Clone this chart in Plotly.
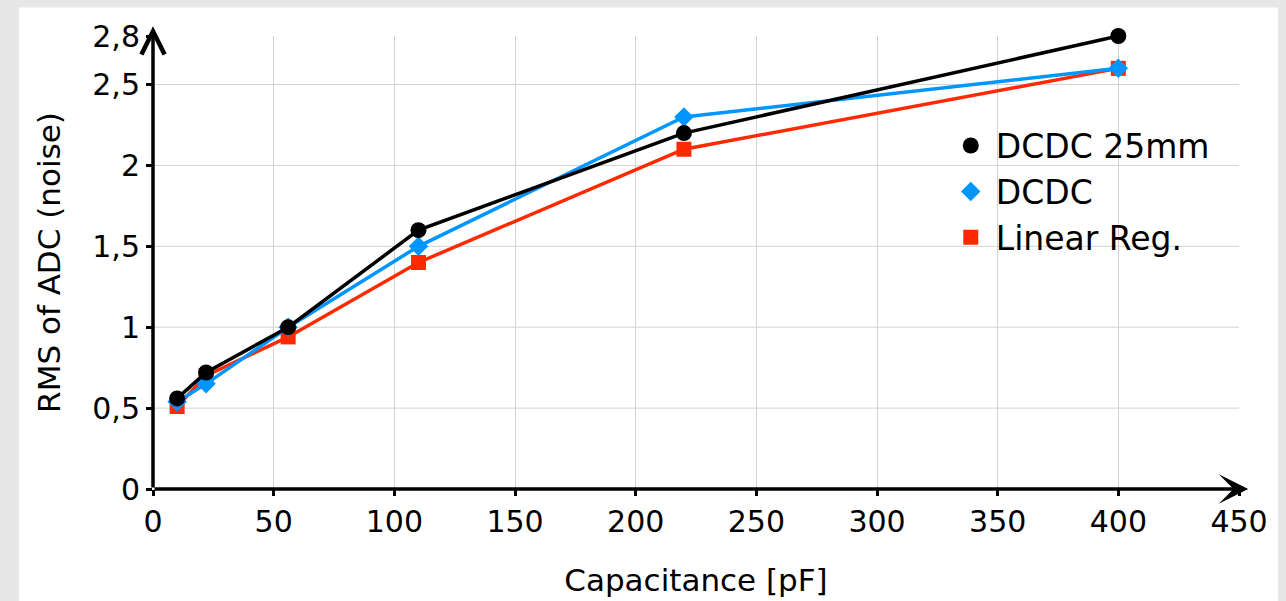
import plotly.graph_objects as go

# ---- data ----
capacitance = [10, 22, 56, 110, 220, 400]
dcdc_25mm = [0.56, 0.72, 1.00, 1.60, 2.20, 2.80]
dcdc = [0.54, 0.65, 1.00, 1.50, 2.30, 2.60]
linear_reg = [0.51, 0.70, 0.94, 1.40, 2.10, 2.60]

series_names = ["DCDC 25mm", "DCDC", "Linear Reg."]
series_values = [dcdc_25mm, dcdc, linear_reg]
series_colors = ["#000000", "#0096FF", "#FF2A00"]
series_symbols = ["circle", "diamond", "square"]
series_sizes = [16, 15, 15]

x_ticks = [0, 50, 100, 150, 200, 250, 300, 350, 400, 450]
y_ticks = [0, 0.5, 1, 1.5, 2, 2.5, 2.8]
y_grid = [0.5, 1, 1.5, 2, 2.5]
x_range = [0, 450]
y_range = [0, 2.8]

FONT = "DejaVu Sans"

fig = go.Figure()

# draw order: red, blue, black (black on top)
for i in [2, 1, 0]:
    fig.add_trace(go.Scatter(
        x=capacitance, y=series_values[i], mode="lines",
        line=dict(color=series_colors[i], width=3.5),
        showlegend=False, hoverinfo="skip", cliponaxis=False,
    ))
    fig.add_trace(go.Scatter(
        x=capacitance, y=series_values[i], mode="markers",
        name=series_names[i], legendgroup=series_names[i], legendrank=i + 1,
        marker=dict(color=series_colors[i], symbol=series_symbols[i],
                    size=series_sizes[i], line=dict(width=0)),
        cliponaxis=False,
    ))

shapes = [
    # white panel over gray page
    dict(type="rect", xref="paper", yref="paper",
         x0=-0.1234, x1=1.0359, y0=-0.35, y1=1.063,
         fillcolor="white", line=dict(width=0), layer="below"),
]
for v in y_grid:
    shapes.append(dict(type="line", xref="x", yref="y", x0=x_range[0], x1=x_range[1],
                       y0=v, y1=v, line=dict(color="#d2d2d2", width=1), layer="below"))

annotations = [
    # x axis line with arrow
    dict(x=453.8, y=0, ax=0, ay=0, xref="x", yref="y", axref="x", ayref="y",
         text="", showarrow=True, arrowhead=3, arrowsize=1.4, arrowwidth=3.5,
         arrowcolor="black", standoff=0, startstandoff=0),
    # y axis line with arrow
    dict(x=0, y=2.86, ax=0, ay=0, xref="x", yref="y", axref="x", ayref="y",
         text="", showarrow=True, arrowhead=5, arrowsize=1.3, arrowwidth=3.5,
         arrowcolor="black", standoff=0, startstandoff=0),
]

fig.update_layout(
    width=1286, height=601,
    margin=dict(l=153, r=47, t=36, b=112, autoexpand=False),
    paper_bgcolor="#e7e7e7",
    plot_bgcolor="white",
    separators=", ",
    font=dict(family=FONT, color="black", size=30),
    shapes=shapes,
    annotations=annotations,
    xaxis=dict(
        range=x_range, tickvals=x_ticks, showgrid=True, gridcolor="#d2d2d2", gridwidth=1,
        zeroline=False, showline=False, ticks="outside", ticklen=6, tickwidth=3,
        tickcolor="black", tickfont=dict(size=30, family=FONT),
        title=dict(text="Capacitance [pF]", font=dict(size=31, family=FONT), standoff=31),
        automargin=False,
    ),
    yaxis=dict(
        range=y_range, tickvals=y_ticks, showgrid=False,
        zeroline=False, showline=False, ticks="outside", ticklen=6, tickwidth=3,
        tickcolor="black", tickfont=dict(size=30, family=FONT),
        title=dict(text="RMS of ADC (noise)", font=dict(size=31, family=FONT), standoff=22),
        automargin=False,
    ),
    legend=dict(
        x=0.73, y=0.82, xanchor="left", yanchor="top",
        bgcolor="rgba(0,0,0,0)", font=dict(size=33, family=FONT),
        traceorder="grouped", tracegroupgap=0, itemwidth=40,
    ),
)

fig.write_html(
    "out.html",
    config={"displayModeBar": False},
    post_script="document.body.style.margin='0';document.body.style.background='#e7e7e7';",
)
